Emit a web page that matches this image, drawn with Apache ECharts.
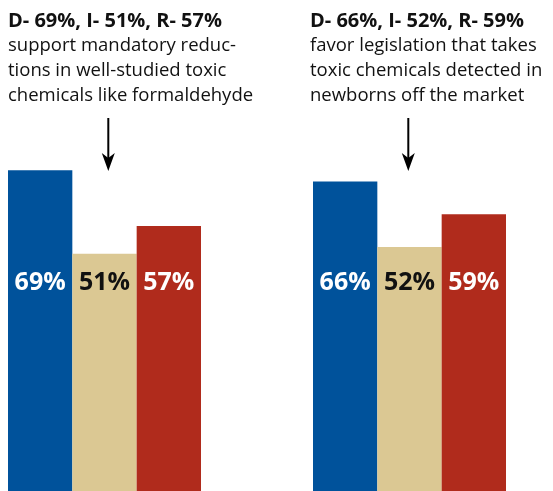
<!DOCTYPE html>
<html>
<head>
<meta charset="utf-8">
<script src="https://cdn.jsdelivr.net/npm/echarts@6/dist/echarts.min.js"></script>
<style>html,body{margin:0;padding:0;background:#fff;}#c{width:553px;height:491px;}</style>
</head>
<body>
<div id="c"></div>
<script>
var parties = ['D', 'I', 'R'];
var supportReductions = [69, 51, 57];
var favorLegislation = [66, 52, 59];
var partyColors = ['#00529B', '#DBC893', '#B02B1C'];
var labelColors = ['#ffffff', '#111111', '#ffffff'];
var leftHeadline = 'D- 69%, I- 51%, R- 57%';
var leftText = ['support mandatory reduc-', 'tions in well-studied toxic', 'chemicals like formaldehyde'];
var rightHeadline = 'D- 66%, I- 52%, R- 59%';
var rightText = ['favor legislation that takes', 'toxic chemicals detected in', 'newborns off the market'];

var FONT = '"Open Sans", "Noto Sans", sans-serif';

function items(vals) {
  return vals.map(function (v, i) {
    return {
      value: v,
      itemStyle: { color: partyColors[i] },
      label: { color: labelColors[i] }
    };
  });
}
function block(head, lines) {
  return '{b|' + head + '}\n' + lines.map(function (l) { return '{r|' + l + '}'; }).join('\n');
}
var rich = {
  b: { fontFamily: FONT, fontWeight: 'bold', fontSize: 20, lineHeight: 25, fill: '#111' },
  r: { fontFamily: FONT, fontSize: 18.5, lineHeight: 25, fill: '#111' }
};
function arrow(x) {
  return [
    { type: 'line', shape: { x1: x, y1: 118, x2: x, y2: 158 }, style: { stroke: '#000', lineWidth: 2 } },
    { type: 'polygon', shape: { points: [[x - 6.5, 153], [x, 158], [x + 6.5, 153], [x, 171]] }, style: { fill: '#000' } }
  ];
}

var labelCfg = {
  show: true, position: 'insideBottom', distance: 196,
  fontFamily: FONT, fontWeight: 'bold', fontSize: 25,
  formatter: '{c}%'
};

var chart = echarts.init(document.getElementById('c'), null, { renderer: 'canvas' });
chart.setOption({
  animation: false,
  backgroundColor: '#ffffff',
  grid: [
    { left: 8, width: 193, top: 26, bottom: 0 },
    { left: 313, width: 193, top: 22, bottom: 0 }
  ],
  xAxis: [
    { type: 'category', gridIndex: 0, data: parties, show: false },
    { type: 'category', gridIndex: 1, data: parties, show: false }
  ],
  yAxis: [
    { type: 'value', gridIndex: 0, min: 0, max: 100, show: false, splitLine: { show: false } },
    { type: 'value', gridIndex: 1, min: 0, max: 100, show: false, splitLine: { show: false } }
  ],
  series: [
    { type: 'bar', xAxisIndex: 0, yAxisIndex: 0, barWidth: '100%', barCategoryGap: 0, data: items(supportReductions), label: labelCfg },
    { type: 'bar', xAxisIndex: 1, yAxisIndex: 1, barWidth: '100%', barCategoryGap: 0, data: items(favorLegislation), label: labelCfg }
  ],
  graphic: [
    { type: 'text', left: 8, top: 11, style: { text: block(leftHeadline, leftText), rich: rich } },
    { type: 'text', left: 310, top: 11, style: { text: block(rightHeadline, rightText), rich: rich } }
  ].concat(arrow(108.3)).concat(arrow(408.3))
});
</script>
</body>
</html>
